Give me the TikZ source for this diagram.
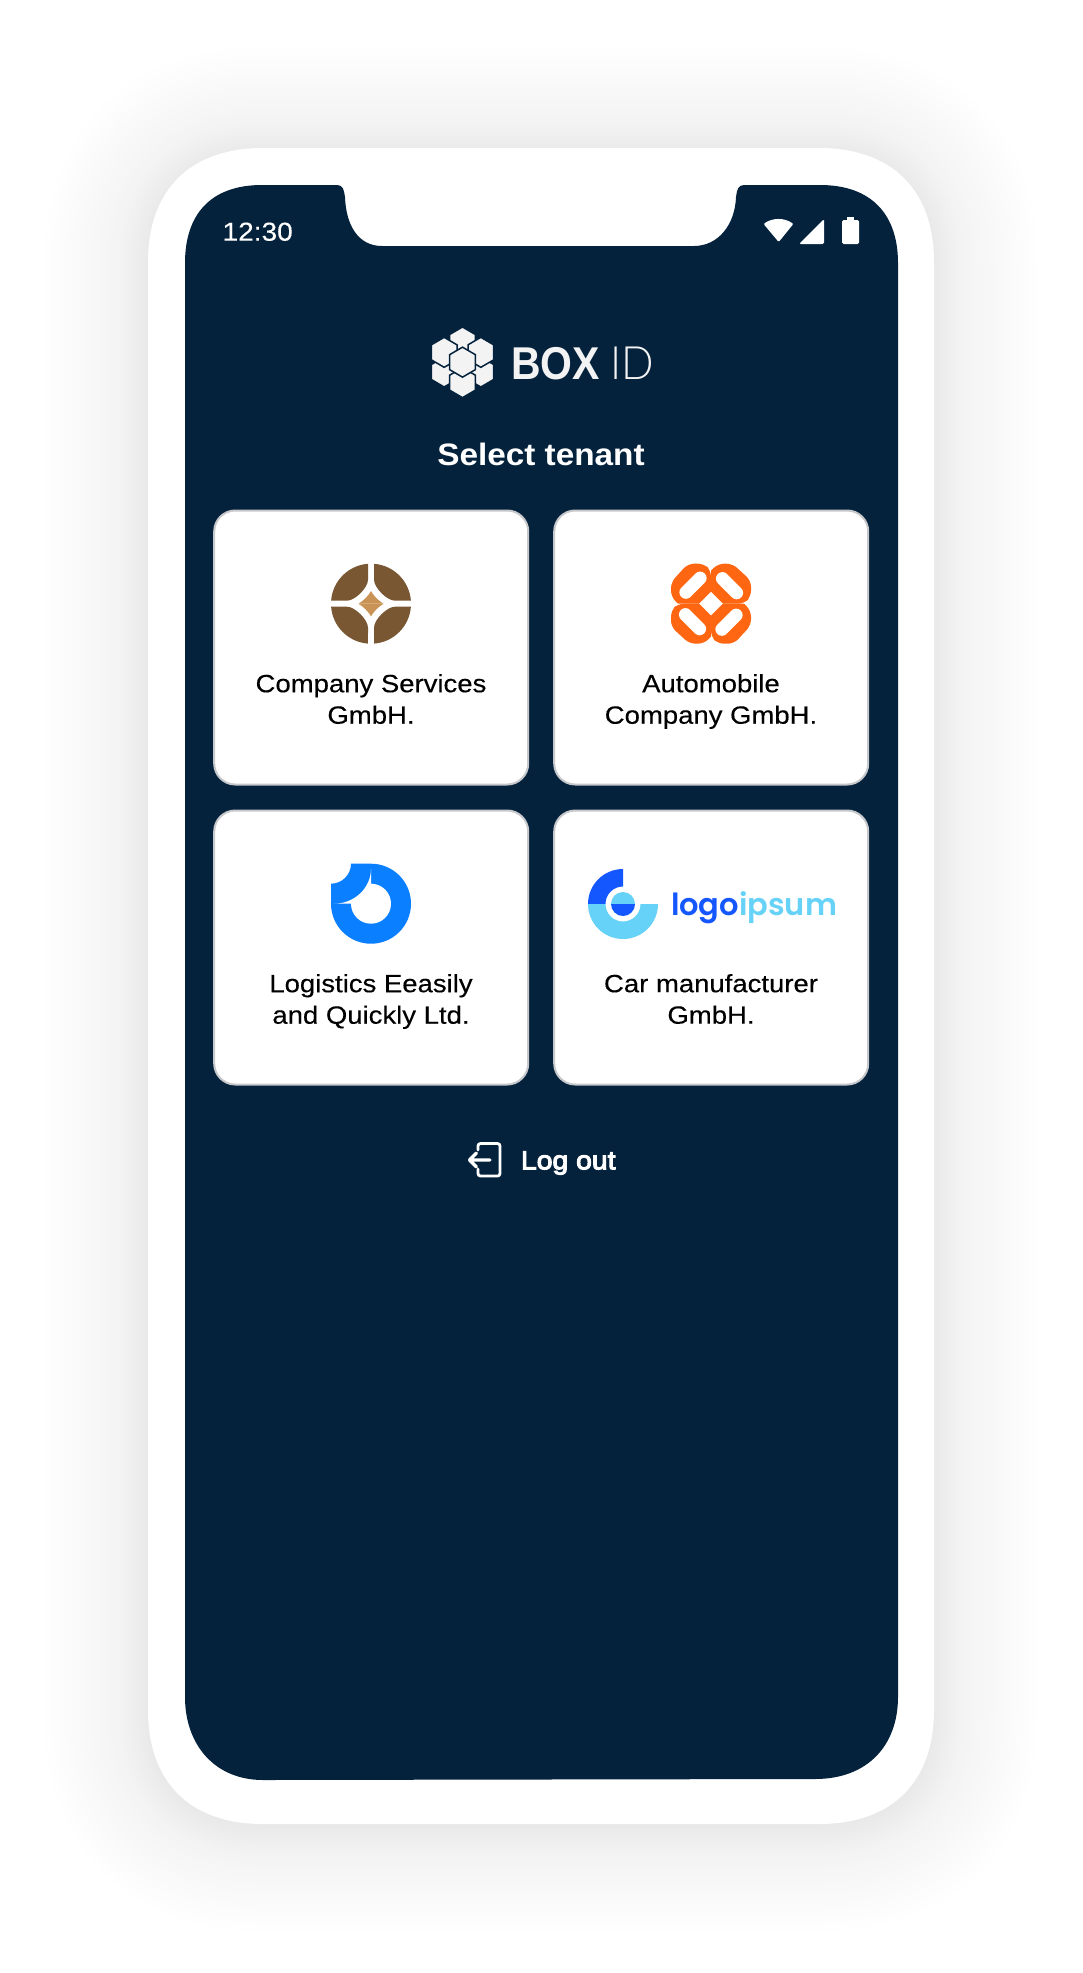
\documentclass[tikz,border=0pt]{standalone}
\usepackage{fontspec}
\setmainfont{Liberation Sans}
\newfontfamily\cardfont[FakeStretch=1.10,FakeBold=0.25]{Liberation Sans}
\newfontfamily\medfont[FakeStretch=1.09,FakeBold=4.0]{Liberation Sans}
\newfontfamily\clockfont[FakeStretch=1.08,FakeBold=0.25]{Liberation Sans}
\newfontfamily\titlefont[FakeStretch=1.075]{Liberation Sans Bold}
\newfontfamily\boxfont[FakeStretch=0.89]{Liberation Sans Bold}
\newfontfamily\idfont[FakeStretch=0.93]{Lato Light}
\newfontfamily\popfont{Poppins SemiBold}
\definecolor{screenc}{HTML}{05223C}
\definecolor{brownc}{HTML}{795733}
\definecolor{tanc}{HTML}{C99355}
\definecolor{orangec}{HTML}{FF6611}
\definecolor{bluec}{HTML}{0A7FFF}
\definecolor{deepc}{HTML}{1557FF}
\definecolor{skyc}{HTML}{66D2F8}
\definecolor{hexc}{HTML}{F3F3F3}
\definecolor{edgec}{HTML}{C6C8CB}
\tikzset{
  card/.style={draw=edgec,line width=2pt,fill=white,rounded corners=21pt,minimum width=314pt,minimum height=274pt,inner sep=0pt},
  cardtext/.style={font=\cardfont\fontsize{25}{31.5}\selectfont,text=black,align=center,inner sep=0pt},
  plain/.style={inner sep=0pt,outer sep=0pt},
  hexpiece/.style={fill=hexc,draw=screenc,line width=1.5pt,line join=miter}
}
\newcommand{\phonepath}[1]{%
  (148-#1,262) .. controls (148-#1,190-#1*0.6) and (190-#1*0.6,148-#1) .. (263,148-#1)
  -- (819,148-#1) .. controls (892+#1*0.6,148-#1) and (934+#1,190-#1*0.6) .. (934+#1,262)
  -- (934+#1,1710) .. controls (934+#1,1782+#1*0.6) and (892+#1*0.6,1824+#1) .. (819,1824+#1)
  -- (263,1824+#1) .. controls (190-#1*0.6,1824+#1) and (148-#1,1782+#1*0.6) .. (148-#1,1710) -- cycle}
\newcommand{\hexat}[2]{%
  \filldraw[hexpiece] (#1,#2-45) -- (#1+38.5,#2-22.5) -- (#1+38.5,#2+22.5) -- (#1,#2+45) -- (#1-38.5,#2+22.5) -- (#1-38.5,#2-22.5) -- cycle;}
\newcommand{\ls}{\vphantom{Agy}}
\begin{document}
\begin{tikzpicture}[x=1pt,y=-1pt]
\useasboundingbox (0,0) rectangle (1083,1973);
\fill[white] (0,0) rectangle (1083,1973);
% soft shadow, opaque nested greys
\begin{scope}[yshift=-3pt]
\foreach \k/\e in {1/103,2/96,3/90,4/83,5/76,6/69,7/63,8/56,9/49,10/42,11/36,12/29,13/26,14/23,15/20,16/17,17/14.5,18/11.6,19/8.7,20/5.8,21/2.9,22/0.5}{
  \pgfmathsetmacro{\p}{\k/2.55}
  \fill[black!\p!white] \phonepath{\e};
}
\end{scope}
% phone body
\fill[white] \phonepath{0};
% screen with notch
\fill[screenc] (185,263) .. controls (185,215) and (210,185) .. (262,185)
  -- (337,185) .. controls (343,185) and (344,190) .. (345,197)
  .. controls (346,225) and (358,246) .. (382,246)
  -- (694,246) .. controls (718,246) and (735,225) .. (736,197)
  .. controls (737,190) and (738,185) .. (744,185)
  -- (820,185) .. controls (872,185) and (898,215) .. (898,263)
  -- (898,1697) .. controls (898,1745) and (868,1779) .. (815,1779)
  -- (263,1780) .. controls (215,1780) and (185,1745) .. (185,1697) -- cycle;
% status bar
\node[plain,anchor=base west,text=white,font=\clockfont\fontsize{26}{30}\selectfont] (clock) at (222.5,240.7) {12:30};
\fill[white,rounded corners=1pt] (763.6,224) .. controls (772,217.5) and (785,217.5) .. (793.3,224) -- (778.7,242) -- cycle;
\fill[white,rounded corners=1.5pt] (824,219) -- (824,244) -- (799,244) -- cycle;
\fill[white,rounded corners=1.5pt] (842,220) rectangle (859,244);
\fill[white] (847,217) rectangle (854,221);
% BOX ID logo
\begin{scope}[shift={(430,310)},x=0.3333pt,y=-0.3333pt]
  \hexat{97.5}{96}
  \hexat{42.5}{186}
  \hexat{152.5}{186}
  \hexat{42.5}{127}
  \hexat{152.5}{127}
  \hexat{97.5}{218}
  \hexat{97.5}{156.5}
\end{scope}
\node[plain,anchor=base west,text=hexc,font=\boxfont\fontsize{46}{50}\selectfont] (box) at (511,379) {BOX};
\node[plain,anchor=base west,text=hexc,font=\idfont\fontsize{46}{50}\selectfont] (idtext) at (610,379) {ID};
\node[plain,anchor=base,text=white,font=\titlefont\fontsize{31}{35}\selectfont] (title) at (541,465) {Select tenant};
% cards
\node[card] (c1) at (371.2,647.5) {};
\node[card] (c2) at (711.2,647.5) {};
\node[card] (c3) at (371.2,947.5) {};
\node[card] (c4) at (711.2,947.5) {};
\node[cardtext] (t1) at (371,701.5) {\ls Company Services\\\ls GmbH.};
\node[cardtext] (t2) at (711,701.5) {\ls Automobile\\\ls Company GmbH.};
\node[cardtext] (t3) at (371,1001.5) {\ls Logistics Eeasily\\\ls and Quickly Ltd.};
\node[cardtext] (t4) at (711,1001.5) {\ls Car manufacturer\\\ls GmbH.};
% logo 1
\begin{scope}[shift={(371,603.7)},y=1pt]
  \foreach \a in {0,90,180,270}{
    \begin{scope}[rotate=\a]
      \fill[brownc] (-3,39.9) arc[start angle=94.3,end angle=175.7,radius=40pt]
        -- (-24,3) .. controls (-16,3) and (-3,16) .. (-3,24) -- cycle;
    \end{scope}
    \begin{scope}[rotate=\a]
      \fill[tanc] (0,0) -- (12.5,0) .. controls (7,3.5) and (3.5,7) .. (0,12.5) -- cycle;
    \end{scope}
  }
\end{scope}
% logo 2
\begin{scope}[shift={(711,603.7)},y=1pt]
  \foreach \a in {0,90,180,270}{
    \begin{scope}[rotate=\a]
      \fill[orangec,rounded corners=6pt] (-33,0) -- (-40,7) -- (-40,21.5) -- (-23,40) -- (-7,40) -- (0,33) [sharp corners] -- (0,12) -- (-12,0) -- cycle;
      \begin{scope}[shift={(-18,18.5)},rotate=45]
        \fill[white,rounded corners=6.4pt] (-16.5,-6.5) rectangle (16.5,6.5);
      \end{scope}
    \end{scope}
  }
\end{scope}
% logo 3
\begin{scope}[shift={(371,903.7)},y=1pt]
  \fill[bluec] (-40,0) -- (-40,20) .. controls (-29,20) and (-20,29) .. (-20,40) -- (0,40)
    arc[start angle=90,end angle=-180,radius=40pt] -- cycle;
  \fill[white] (0,35) -- (0,20) arc[start angle=90,end angle=-180,radius=20pt] -- (-37,0)
    .. controls (-16.6,0) and (0,15.7) .. (0,35) -- cycle;
\end{scope}
% logo 4
\begin{scope}[shift={(623,904)},y=1pt]
  \fill[deepc] (-35,0) arc[start angle=180,end angle=90,radius=35pt] -- (0,17.5) arc[start angle=90,end angle=180,radius=17.5pt] -- cycle;
  \fill[skyc] (-35,0) arc[start angle=180,end angle=360,radius=35pt] -- (17.5,0) arc[start angle=0,end angle=-180,radius=17.5pt] -- cycle;
  \fill[skyc] (-12,0) arc[start angle=180,end angle=0,radius=12pt] -- cycle;
  \fill[deepc] (-12,0) arc[start angle=180,end angle=360,radius=12pt] -- cycle;
\end{scope}
\node[plain,anchor=base west,font=\popfont\fontsize{30.5}{36}\selectfont] (lgo) at (671,915) {\textcolor{deepc}{logo}\textcolor{skyc}{ipsum}};
% log out
\draw[white,line width=2.8pt,rounded corners=2.5pt,line cap=round] (478,1150) -- (478,1143.5) -- (500,1143.5) -- (500,1176) -- (478,1176) -- (478,1169);
\draw[white,line width=3.4pt,line cap=round,line join=round] (490,1160) -- (469.5,1160) (476.5,1153) -- (469.5,1160) -- (476.5,1167);
\node[plain,anchor=base west,text=white,font=\medfont\fontsize{26}{30}\selectfont] (logout) at (521,1169.3) {Log out};
\end{tikzpicture}
\end{document}
